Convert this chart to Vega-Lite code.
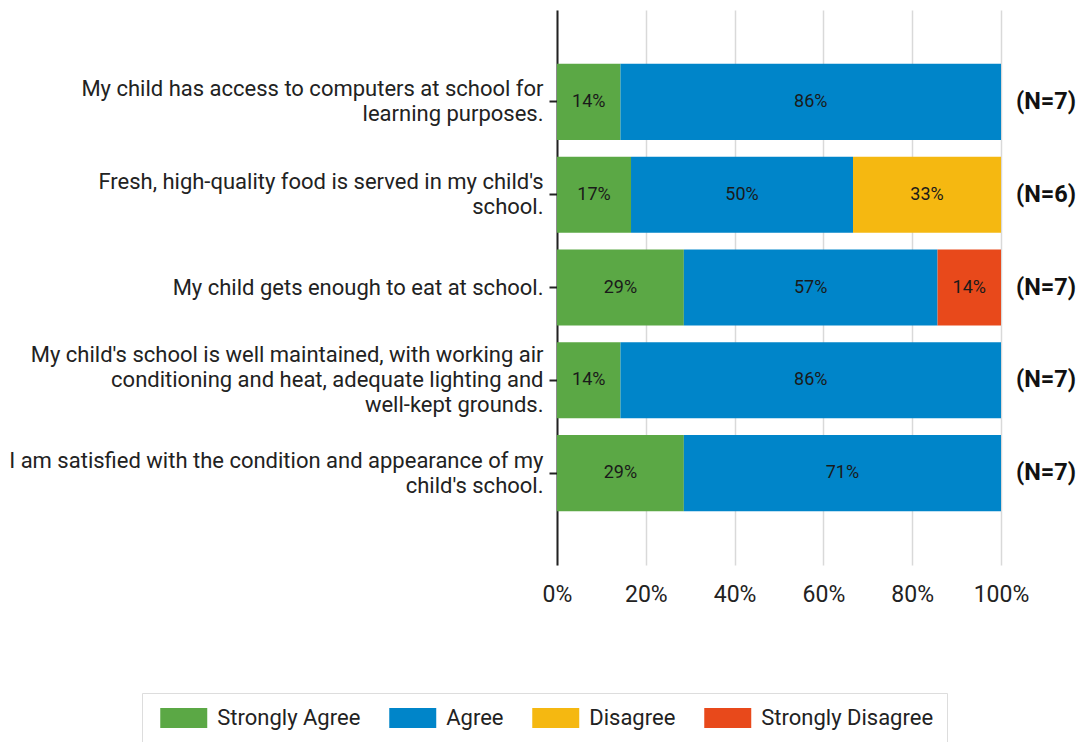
{
  "$schema": "https://vega.github.io/schema/vega-lite/v6.json",
  "autosize": {"type": "none"},
  "padding": {"left": 557, "top": 10, "right": 83, "bottom": 177},
  "width": 444,
  "height": 555,
  "config": {"font": "Roboto", "view": {"stroke": null}},
  "datasets": {
    "responses": [
      {"question": "My child has access to computers at school for|learning purposes.", "response": "Strongly Agree", "rank": 1, "share": 0.1429},
      {"question": "My child has access to computers at school for|learning purposes.", "response": "Agree", "rank": 2, "share": 0.8571},
      {"question": "Fresh, high-quality food is served in my child's|school.", "response": "Strongly Agree", "rank": 1, "share": 0.1667},
      {"question": "Fresh, high-quality food is served in my child's|school.", "response": "Agree", "rank": 2, "share": 0.5},
      {"question": "Fresh, high-quality food is served in my child's|school.", "response": "Disagree", "rank": 3, "share": 0.3333},
      {"question": "My child gets enough to eat at school.", "response": "Strongly Agree", "rank": 1, "share": 0.2857},
      {"question": "My child gets enough to eat at school.", "response": "Agree", "rank": 2, "share": 0.5714},
      {"question": "My child gets enough to eat at school.", "response": "Strongly Disagree", "rank": 4, "share": 0.1429},
      {"question": "My child's school is well maintained, with working air|conditioning and heat, adequate lighting and|well-kept grounds.", "response": "Strongly Agree", "rank": 1, "share": 0.1429},
      {"question": "My child's school is well maintained, with working air|conditioning and heat, adequate lighting and|well-kept grounds.", "response": "Agree", "rank": 2, "share": 0.8571},
      {"question": "I am satisfied with the condition and appearance of my|child's school.", "response": "Strongly Agree", "rank": 1, "share": 0.2857},
      {"question": "I am satisfied with the condition and appearance of my|child's school.", "response": "Agree", "rank": 2, "share": 0.7143}
    ],
    "counts": [
      {"question": "My child has access to computers at school for|learning purposes.", "n": "(N=7)"},
      {"question": "Fresh, high-quality food is served in my child's|school.", "n": "(N=6)"},
      {"question": "My child gets enough to eat at school.", "n": "(N=7)"},
      {"question": "My child's school is well maintained, with working air|conditioning and heat, adequate lighting and|well-kept grounds.", "n": "(N=7)"},
      {"question": "I am satisfied with the condition and appearance of my|child's school.", "n": "(N=7)"}
    ]
  },
  "layer": [
    {
      "data": {"name": "responses"},
      "mark": {"type": "bar"},
      "encoding": {
        "y": {
          "field": "question", "type": "nominal", "sort": null,
          "scale": {"paddingInner": 0.18, "paddingOuter": 0.58},
          "axis": {
            "title": null,
            "labelExpr": "split(datum.label, '|')",
            "labelLimit": 600,
            "labelFontSize": 22,
            "labelLineHeight": 25,
            "labelOffset": {
              "condition": [
                {"test": "length(split(datum.value, '|')) == 3", "value": -25},
                {"test": "length(split(datum.value, '|')) == 2", "value": -12.5}
              ],
              "value": 0
            },
            "labelColor": "#222222",
            "labelPadding": 6,
            "tickSize": 8,
            "tickColor": "#222222",
            "tickWidth": 2,
            "domainColor": "#222222",
            "domainWidth": 2,
            "grid": false
          }
        },
        "x": {
          "field": "share", "type": "quantitative", "stack": "zero",
          "scale": {"domain": [0, 1], "nice": false},
          "axis": {
            "title": null,
            "format": ".0%",
            "values": [0, 0.2, 0.4, 0.6, 0.8, 1],
            "domain": false,
            "ticks": false,
            "grid": true,
            "gridColor": "#d9d9d9",
            "gridWidth": 1.5,
            "labelFontSize": 23,
            "labelFlush": false,
            "labelOverlap": false,
            "labelColor": "#222222",
            "labelPadding": 18
          }
        },
        "color": {
          "field": "response", "type": "nominal",
          "scale": {
            "domain": ["Strongly Agree", "Agree", "Disagree", "Strongly Disagree"],
            "range": ["#5BA845", "#0085C9", "#F5B811", "#E8491B"]
          },
          "legend": {
            "title": null,
            "orient": "none",
            "direction": "horizontal",
            "legendX": -415,
            "legendY": 683,
            "symbolType": "M-2,-0.85H2V0.85H-2Z",
            "symbolSize": 552,
            "symbolStrokeWidth": 0,
            "symbolOpacity": 1,
            "symbolOffset": 16.75,
            "labelFontSize": 22,
            "labelColor": "#222222",
            "labelOffset": 21.5,
            "labelLimit": 400,
            "columnPadding": 23,
            "padding": 13,
            "strokeColor": "#dddddd",
            "fillColor": "#ffffff"
          }
        },
        "order": {"field": "rank", "type": "quantitative"}
      }
    },
    {
      "data": {"name": "responses"},
      "transform": [
        {"stack": "share", "groupby": ["question"], "sort": [{"field": "rank"}], "as": ["s0", "s1"]},
        {"calculate": "(datum.s0 + datum.s1) / 2", "as": "mid"}
      ],
      "mark": {"type": "text", "fontSize": 18, "color": "#1a1a1a"},
      "encoding": {
        "y": {"field": "question", "type": "nominal", "sort": null},
        "x": {"field": "mid", "type": "quantitative"},
        "text": {"field": "share", "type": "quantitative", "format": ".0%"}
      }
    },
    {
      "data": {"name": "counts"},
      "mark": {"type": "text", "align": "left", "dx": 15, "fontSize": 23.5, "fontWeight": "bold", "color": "#111111"},
      "encoding": {
        "y": {"field": "question", "type": "nominal", "sort": null},
        "x": {"datum": 1, "type": "quantitative"},
        "text": {"field": "n"}
      }
    }
  ]
}
